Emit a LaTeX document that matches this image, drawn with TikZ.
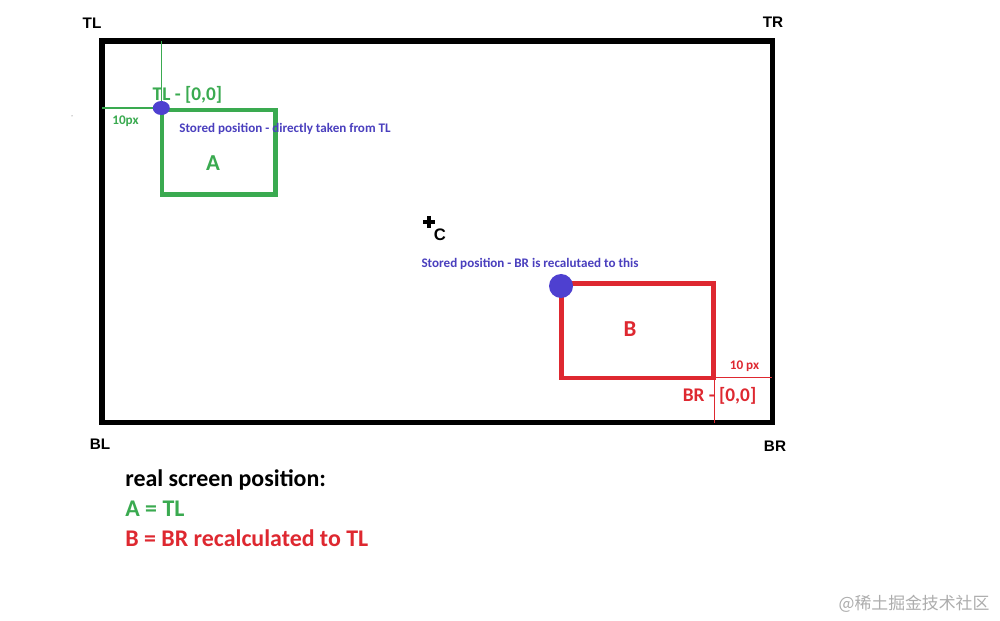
\documentclass[tikz,border=0pt]{standalone}
\usepackage{fontspec}
\setmainfont{Carlito}
\newfontfamily\arialf{Liberation Sans}
\newfontfamily\cjkf{Noto Sans CJK SC}
\definecolor{grn}{RGB}{58,170,80}
\definecolor{rd}{RGB}{222,40,48}
\definecolor{blu}{RGB}{78,64,208}
\definecolor{blutxt}{RGB}{74,63,190}
\begin{document}
\begin{tikzpicture}[x=0.02cm,y=-0.02cm,
  corner/.style={font=\arialf\bfseries\fontsize{8.7}{10}\selectfont,inner sep=0pt},
  bigtxt/.style={font=\bfseries\fontsize{13.6}{16}\selectfont,inner sep=0pt,anchor=west},
  small/.style={font=\bfseries\fontsize{7.45}{9}\selectfont,inner sep=0pt,text=blutxt},
  tag/.style={font=\bfseries\fontsize{11}{13}\selectfont,inner sep=0pt},
  tiny/.style={font=\bfseries\fontsize{7.5}{9}\selectfont,inner sep=0pt},
  letter/.style={font=\bfseries\fontsize{13}{15}\selectfont,inner sep=0pt}]
\useasboundingbox (0,0) rectangle (1000,621);
\fill[white] (0,0) rectangle (1000,621);
% screen frame
\draw[line width=2.9pt] (102,41) rectangle (772.5,422.5);
% corner labels
\node[corner] (tl) at (92,23) {TL};
\node[corner] (tr) at (773,22) {TR};
\node[corner] (bl) at (100,444) {BL};
\node[corner] (br) at (775,446) {BR};
% guide lines A
\coordinate (gtop) at (161.3,41);
\coordinate (gleft) at (102,108);
\coordinate (pa) at (161.3,108);
\draw[grn,line width=0.6pt] (gtop) -- (pa);
\draw[grn,line width=0.6pt] (gleft) -- (pa);
% rect A
\draw[grn,line width=2.8pt] (162,110) rectangle (275.5,194.5);
\node[tag,text=grn] (tla) at (187.5,95) {TL - [0,0]};
\node[tiny,text=grn] (pxa) at (125.5,121) {10px};
\fill[blu] (pa) ellipse (8.5 and 7);
\fill[black!70] (72,116) circle (0.5);
\node[small] (sa) at (285,128.5) {Stored position - directly taken from TL};
\node[letter,text=grn] (la) at (213,163.5) {A};
% centre
\draw[line width=2.2pt] (423,222) -- (435,222) (429,216) -- (429,228);
\node[corner,font=\arialf\bfseries\fontsize{9.5}{11}\selectfont] (c) at (440,235) {C};
% rect B
\node[small] (sb) at (530,263.5) {Stored position - BR is recalutaed to this};
\draw[rd,line width=2.6pt] (561.5,283.5) rectangle (713.5,378);
\coordinate (pb) at (561,286);
\fill[blu] (pb) circle (12);
\node[letter,text=rd] (lb) at (630,329.5) {B};
\coordinate (hr) at (772,377.3);
\coordinate (hl) at (713.5,377.3);
\coordinate (vt) at (714.7,378);
\coordinate (vb) at (714.7,423);
\draw[rd,line width=0.6pt] (hl) -- (hr);
\draw[rd,line width=0.6pt] (vt) -- (vb);
\node[tiny,text=rd] (pxb) at (744.5,366.5) {10 px};
\node[tag,text=rd] (brl) at (719.5,396) {BR - [0,0]};
% bottom text
\node[bigtxt] (t1) at (125,480) {real screen position:};
\node[bigtxt,text=grn] (t2) at (125,509) {A = TL};
\node[bigtxt,text=rd] (t3) at (125,538) {B = BR recalculated to TL};
% watermark
\node[font=\cjkf\fontsize{9.6}{11}\selectfont,text=black!32,inner sep=0pt] (wm) at (914,604) {@稀土掘金技术社区};
\end{tikzpicture}
\end{document}
